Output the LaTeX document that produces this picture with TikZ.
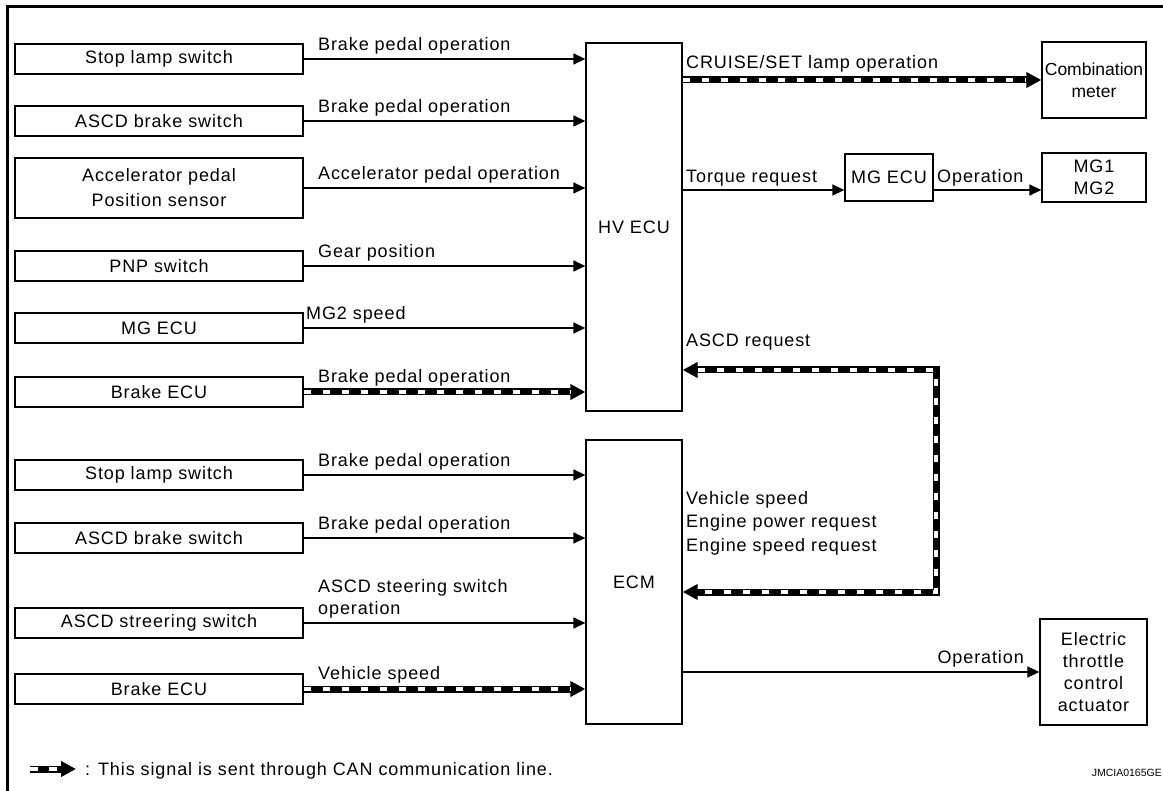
\documentclass[tikz,border=0pt]{standalone}
\usepackage{fontspec}
\setmainfont{Liberation Sans}[LetterSpace=5]
\newfontfamily\plainfont{Liberation Sans}
\usetikzlibrary{arrows.meta}
\newcommand{\fs}{\fontsize{18}{22}\selectfont}
\begin{document}
\begin{tikzpicture}[x=1pt,y=-1pt,
  box/.style={draw,line width=1.3pt,inner sep=0pt,align=center,font=\fs},
  lbox/.style={box,minimum width=288pt,minimum height=30pt},
  arr/.style={line width=1.4pt,-{Triangle[length=12pt,width=11pt]}},
  lab/.style={anchor=base west,inner sep=0pt,font=\fs},
  can/.style={line width=7pt,line join=miter,-{Triangle[length=15pt,width=15pt]},
    postaction={draw=white,line width=3.6pt,dash pattern=on 7.5pt off 11.5pt,-,shorten >=15pt}},
  canb/.style={line width=7pt,line join=miter,{Triangle[length=15pt,width=15pt]}-{Triangle[length=15pt,width=15pt]},
    postaction={draw=white,line width=3.6pt,dash pattern=on 7.5pt off 11.5pt,-,shorten >=15pt,shorten <=15pt}},
]
\useasboundingbox (0,0) rectangle (1163,791);
\draw[line width=3pt] (7,800) -- (7,7) -- (1170,7);
% left boxes
\node[lbox] (s1) at (159,59) {Stop lamp switch};
\node[lbox] (s2) at (159,121) {ASCD brake switch};
\node[lbox,minimum height=60pt] (s3) at (159,188) {Accelerator pedal\\[3pt]Position sensor};
\node[lbox] (s4) at (159,266) {PNP switch};
\node[lbox] (s5) at (159,328) {MG ECU};
\node[lbox] (s6) at (159,392) {Brake ECU};
\node[lbox] (s7) at (159,475) {Stop lamp switch};
\node[lbox] (s8) at (159,538) {ASCD brake switch};
\node[lbox] (s9) at (159,623) {ASCD streering switch};
\node[lbox] (s10) at (159,689) {Brake ECU};
% central
\node[box,minimum width=96pt,minimum height=368pt] (hv) at (634,227) {HV ECU};
\node[box,minimum width=96pt,minimum height=284pt] (ecm) at (634,582) {ECM};
% right
\node[box,minimum width=104pt,minimum height=76pt,font=\plainfont\fontsize{17.5}{22}\selectfont] (cm) at (1094,80) {Combination\\meter};
\node[box,minimum width=88pt,minimum height=47pt] (mgr) at (889,177.5) {MG ECU};
\node[box,minimum width=104pt,minimum height=49pt] (mg) at (1094,177.5) {MG1\\MG2};
\node[box,minimum width=107pt,minimum height=106pt] (eth) at (1093.5,672) {Electric\\throttle\\control\\actuator};
% arrows left
\draw[arr] (s1.east) -- (s1.east -| hv.west);
\draw[arr] (s2.east) -- (s2.east -| hv.west);
\draw[arr] (s3.east) -- (s3.east -| hv.west);
\draw[arr] (s4.east) -- (s4.east -| hv.west);
\draw[arr] (s5.east) -- (s5.east -| hv.west);
\draw[can] (s6.east) -- (s6.east -| hv.west);
\draw[arr] (s7.east) -- (s7.east -| ecm.west);
\draw[arr] (s8.east) -- (s8.east -| ecm.west);
\draw[arr] (s9.east) -- (s9.east -| ecm.west);
\draw[can] (s10.east) -- (s10.east -| ecm.west);
% arrows right
\draw[can] (cm.west -| hv.east) -- (cm.west);
\coordinate (ty) at (0,190);
\draw[arr] (hv.east |- ty) -- (mgr.west |- ty);
\draw[arr] (mgr.east |- ty) -- (mg.west |- ty);
\coordinate (c1) at (936,370);
\coordinate (c2) at (936,592);
\draw[canb] (c1 -| hv.east) -- (c1) -- (c2) -- (c2 -| ecm.east);
\draw[arr] (eth.west -| ecm.east) -- (eth.west);
% labels
\node[lab] (l1) at (318,51) {Brake pedal operation};
\node[lab] (l2) at (318,113) {Brake pedal operation};
\node[lab] (l3) at (318,180) {Accelerator pedal operation};
\node[lab] (l4) at (318,258) {Gear position};
\node[lab] (l5) at (306,320) {MG2 speed};
\node[lab] (l6) at (318,383) {Brake pedal operation};
\node[lab] (l7) at (318,467) {Brake pedal operation};
\node[lab] (l8) at (318,530) {Brake pedal operation};
\node[lab] (l9a) at (318,593) {ASCD steering switch};
\node[lab] (l9b) at (318,614) {operation};
\node[lab] (l10) at (318,679) {Vehicle speed};
\node[lab] (r1) at (686,69) {CRUISE/SET lamp operation};
\node[lab] (r2) at (686,183) {Torque request};
\node[lab] (r3) at (937,183) {Operation};
\node[lab] (r4) at (686,347) {ASCD request};
\node[lab] (r5) at (686,505) {Vehicle speed};
\node[lab] (r6) at (686,528) {Engine power request};
\node[lab] (r7) at (686,552) {Engine speed request};
\node[lab,anchor=base east] (r8) at (1024,663) {Operation};
% legend
\coordinate (g1) at (30,769);
\coordinate (g2) at (76,769);
\draw[can] (g1) -- (g2);
\node[lab] (gt) at (85,775) {: This signal is sent through CAN communication line.};
\node[lab,anchor=base east,font=\plainfont\fontsize{10.5}{13}\selectfont] (code) at (1162,776) {JMCIA0165GE};
\end{tikzpicture}
\end{document}
